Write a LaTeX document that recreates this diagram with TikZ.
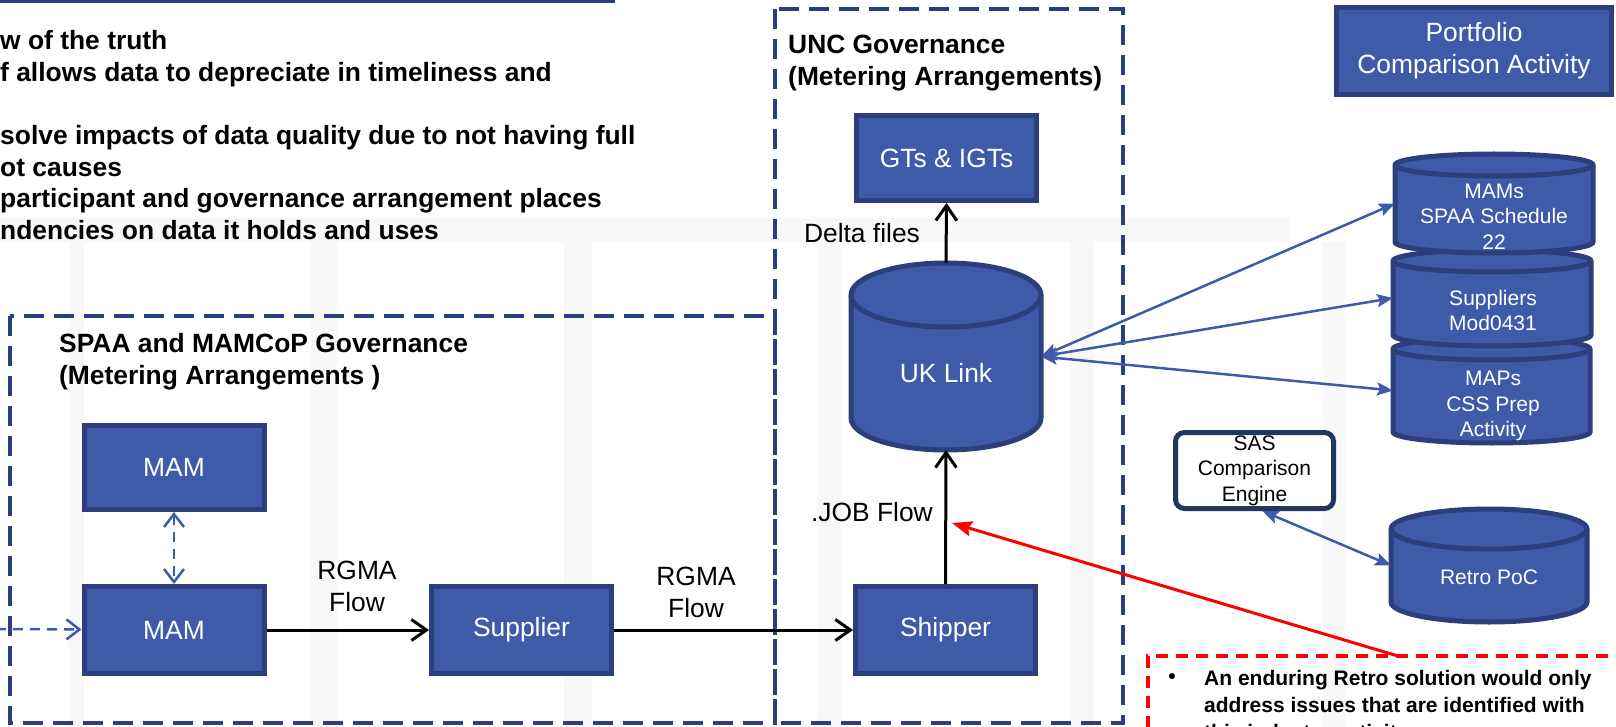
\documentclass[tikz,border=0pt]{standalone}
\usepackage{fontspec}
\setmainfont{Liberation Sans}
\usetikzlibrary{arrows.meta}
\definecolor{boxblue}{RGB}{63,90,169}
\definecolor{boxnavy}{RGB}{44,63,124}
\definecolor{dashnavy}{RGB}{43,62,128}
\definecolor{sasnavy}{RGB}{31,56,95}
\definecolor{bandgray}{RGB}{248,248,248}

% database drum drawn round an empty node: name, x radius, y radius
\newcommand{\dbcyl}[3]{%
  \filldraw[db] ([yshift=-#3]#1.north west) -- ([yshift=#3]#1.south west)
    arc[start angle=180, end angle=360, x radius=#2, y radius=#3]
    -- ([yshift=-#3]#1.north east)
    arc[start angle=0, end angle=180, x radius=#2, y radius=#3] -- cycle;
  \draw[db, fill=none] ([yshift=-#3]#1.north west)
    arc[start angle=180, end angle=360, x radius=#2, y radius=#3];
}

\begin{document}
\begin{tikzpicture}[x=1pt, y=-1pt,
    bigfont/.style={font=\fontsize{26.4}{32}\selectfont},
    bigbold/.style={font=\fontsize{26.4}{32}\selectfont\bfseries},
    smallfont/.style={font=\fontsize{21}{25.5}\selectfont},
    bluebox/.style={draw=boxnavy, fill=boxblue, line width=5pt, text=white,
      align=center, bigfont, inner sep=0pt},
    procbox/.style={bluebox, minimum width=180pt, minimum height=87pt},
    sasbox/.style={draw=sasnavy, fill=white, line width=5pt, rounded corners=9pt,
      align=center, smallfont, inner sep=0pt},
    dbbox/.style={inner sep=0pt, outer sep=0pt},
    db/.style={draw=boxnavy, fill=boxblue, line width=5pt},
    dbtext/.style={text=white, align=center, smallfont},
    govbox/.style={draw=dashnavy, line width=4pt, dash pattern=on 20pt off 10pt},
    flow/.style={line width=3pt, -{Straight Barb[length=15pt, width=21pt]}},
    dashflow/.style={draw=boxblue, line width=2.5pt, dash pattern=on 10pt off 7pt},
    link/.style={draw=boxblue, line width=2.5pt,
      {Stealth[length=16pt, width=13pt, inset=3pt]}-{Stealth[length=16pt, width=13pt, inset=3pt]}},
    redarrow/.style={draw=red, line width=3pt, -{Stealth[length=20pt, width=15pt, inset=3pt]}},
  ]
\useasboundingbox (0,0) rectangle (1616,727);
\clip (0,0) rectangle (1616,727);

% faint slide background
\fill[bandgray] (0,218) rectangle (1290,242);
\foreach \bx/\bw in {69/15, 311/26, 564/28, 817/24, 1070/24, 1323/22}
  \fill[bandgray] (\bx,242) rectangle ++(\bw,485);

% cut-off title bar and governance areas
\filldraw[fill=boxblue, draw=boxnavy, line width=5pt] (-20,-60) rectangle (612,1);
\draw[govbox] (10,316) rectangle (775,723);
\draw[govbox] (775,9) rectangle (1123,723);

\node[anchor=west, inner sep=0pt, align=left,
      font=\fontsize{26.4}{31.7}\selectfont\bfseries] (issues) at (0,135) {w of the truth\\
  f allows data to depreciate in timeliness and\\[31.7pt]
  solve impacts of data quality due to not having full\\
  ot causes\\
  participant and governance arrangement places\\
  ndencies on data it holds and uses};

\node[anchor=west, inner sep=0pt, align=left, bigbold] (spaatitle) at (59,361.5)
  {SPAA and MAMCoP Governance\\(Metering Arrangements )};
\node[anchor=west, inner sep=0pt, align=left, bigbold] (unctitle) at (788,63.5)
  {UNC Governance\\(Metering Arrangements)};

% boxes
\node[bluebox, minimum width=180pt, minimum height=84pt] (mamtop) at (174,467.5) {MAM};
\node[procbox] (mam) at (174,630) {MAM};
\node[procbox] (supplier) at (521.5,630) {Supplier};
\node[procbox] (shipper) at (945.5,630) {Shipper};
\node[bluebox, minimum width=180pt, minimum height=85pt] (gts) at (946.5,158) {GTs \& IGTs};
\node[bluebox, minimum width=275pt, minimum height=87pt] (portfolio) at (1474,51)
  {Portfolio\\Comparison Activity};
\node[sasbox, minimum width=158pt, minimum height=76pt] (sas) at (1254.5,470.5)
  {SAS\\Comparison\\Engine};

% databases
\node[dbbox, minimum width=190pt, minimum height=187pt] (uklink) at (946,356.5) {};
\dbcyl{uklink}{95pt}{32pt}
\node[dbtext, bigfont] (uklinktext) at (946,373) {UK Link};

\node[dbbox, minimum width=197pt, minimum height=105pt] (maps) at (1491.5,390.5) {};
\dbcyl{maps}{98.5pt}{11pt}
\node[dbtext] (mapstext) at (1493,406) {MAPs\\CSS Prep\\Activity};

\node[dbbox, minimum width=198pt, minimum height=96pt] (suppliers) at (1492,298) {};
\dbcyl{suppliers}{99pt}{11pt}
\node[dbtext] (supplierstext) at (1493,310.5) {Suppliers\\Mod0431};

\node[dbbox, minimum width=198pt, minimum height=99pt] (mams) at (1494,203.5) {};
\dbcyl{mams}{99pt}{11pt}
\node[dbtext] (mamstext) at (1494,216.5) {MAMs\\SPAA Schedule\\22};

\node[dbbox, minimum width=196pt, minimum height=113pt] (retro) at (1489,565.5) {};
\dbcyl{retro}{98pt}{20pt}
\node[dbtext] (retrotext) at (1489,577) {Retro PoC};

% flows
\coordinate (mamin) at (-4,629);
\draw[dashflow, -{Straight Barb[length=13pt, width=20pt]}] (mamin) -- (mam);
\draw[dashflow, {Straight Barb[length=13pt, width=20pt]}-{Straight Barb[length=13pt, width=20pt]}]
  (mamtop) -- (mam);
\draw[flow] (mam) -- (supplier);
\draw[flow] (supplier) -- (shipper);
\draw[flow] (shipper.north) -- (uklink.south);
\draw[flow] (uklink.north) -- (gts.south);

\node[bigfont, align=center] (rgmaone) at (357,586.5) {RGMA\\Flow};
\node[bigfont, align=center] (rgmatwo) at (696,592) {RGMA\\Flow};
\node[bigfont] (delta) at (862,233) {Delta files};
\node[bigfont, anchor=east, inner sep=0pt] (jobflowlabel) at (933,512) {.JOB Flow};

\draw[link] (uklink.east) -- (mams.west);
\draw[link] (uklink.east) -- (suppliers.west);
\draw[link] (uklink.east) -- (maps.west);
\draw[link] ([xshift=8pt]sas.south) -- (retro.west);

% note
\node[draw=red, line width=4pt, dash pattern=on 12pt off 8pt, anchor=north west,
      minimum width=520pt, minimum height=120pt, outer sep=0pt] (notebox) at (1148,656) {};
\node[font=\fontsize{21}{27}\selectfont\bfseries] (notebullet) at (1172,679) {\textbullet};
\node[anchor=west, inner sep=0pt, align=left, font=\fontsize{21}{27}\selectfont\bfseries]
  (notetext) at (1204,707) {An enduring Retro solution would only\\
  address issues that are identified with\\this industry activity};
\coordinate (jobflow) at (952,523);
\draw[redarrow] ([xshift=250pt]notebox.north west) -- (jobflow);
\end{tikzpicture}
\end{document}
